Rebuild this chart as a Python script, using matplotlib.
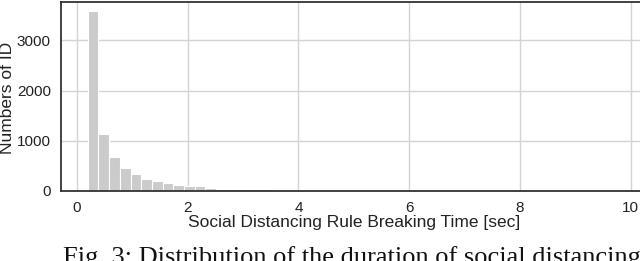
import numpy as np
import matplotlib
matplotlib.use('Agg')
import matplotlib.pyplot as plt

# histogram counts (bin width ~0.193 s starting at 0.195 s)
bin_start = 0.195
bin_width = 0.193
counts = [3590, 1140, 665, 445, 338, 240, 200, 153, 112, 100,
          90, 65, 45, 45, 45, 40, 30, 15, 8, 8,
          8, 18, 5, 4, 3, 2, 2, 3, 2, 1,
          1, 2, 1, 1, 0, 1, 1, 0, 1, 0,
          0, 1, 0, 0, 1, 0, 0, 0, 0, 1]
x_ticks = [0, 2, 4, 6, 8, 10]
y_ticks = [0, 1000, 2000, 3000]

plt.rcParams['font.family'] = ['Liberation Sans', 'DejaVu Sans']

fig = plt.figure(figsize=(6.4, 2.61), dpi=100)
ax = fig.add_axes([0.0948, 0.269, 0.913, 0.725])

edges = bin_start + bin_width * np.arange(len(counts) + 1)
ax.hist(edges[:-1], bins=edges, weights=counts, color='#cbcbcb',
        edgecolor='white', linewidth=0.8, zorder=2)

ax.set_xlim(-0.295, 10.26)
ax.set_ylim(0, 3775)
ax.set_xticks(x_ticks)
ax.set_yticks(y_ticks)
ax.grid(True, color='#d4d4d4', linewidth=1.0, zorder=0)
ax.set_axisbelow(True)
ax.tick_params(length=0, labelsize=11, pad=7, colors='#222222')

for side in ['left', 'bottom', 'top']:
    ax.spines[side].set_color('#333333')
    ax.spines[side].set_linewidth(1.3)
ax.spines['right'].set_visible(False)

fig.text(8 / 640, 1 - 98 / 261, 'Numbers of ID', rotation=90,
         ha='center', va='center', fontsize=12.5, color='#222222')
fig.text(354 / 640, 1 - 222 / 261, 'Social Distancing Rule Breaking Time [sec]',
         ha='center', va='center', fontsize=12.5, color='#222222')

fig.text(63 / 640, 1 - 246 / 261,
         'Fig. 3: Distribution of the duration of social distancing',
         ha='left', va='top', fontsize=19, family='Liberation Serif', color='#111111')

fig.savefig('out.png', dpi=100)
